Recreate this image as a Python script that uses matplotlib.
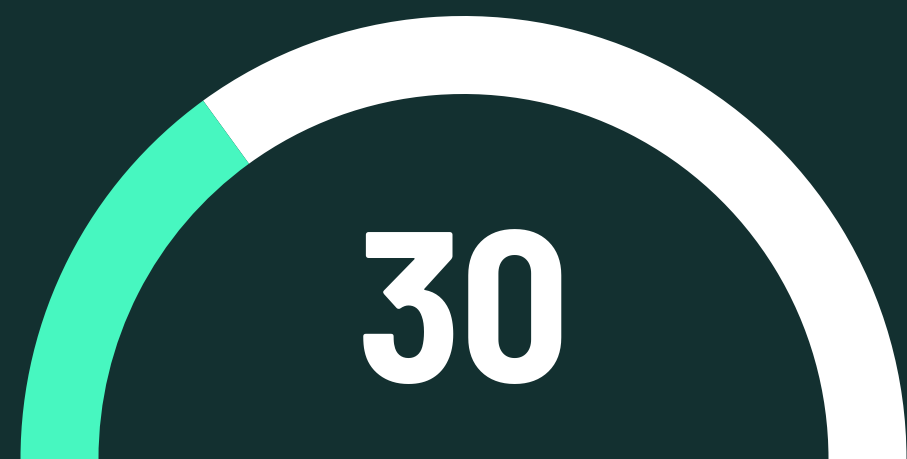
import matplotlib
matplotlib.use("Agg")
import matplotlib.pyplot as plt
from matplotlib.patches import Wedge

value = 30
min_value = 0
max_value = 100
label = "30"

bg = "#133030"
fill_color = "#47F7C0"
track_color = "#FFFFFF"

W, H = 907, 460
fig = plt.figure(figsize=(W/100, H/100), dpi=100, facecolor=bg)
ax = fig.add_axes([0, 0, 1, 1])
ax.set_facecolor(bg)
ax.set_xlim(0, W)
ax.set_ylim(0, H)
ax.set_aspect("equal")
ax.axis("off")

cx, cy = 463.5, 0
r_out, r_in = 443, 365
frac = (value - min_value) / (max_value - min_value)
split = 180 - 180 * frac

ax.add_patch(Wedge((cx, cy), r_out, 0, split, width=r_out - r_in, facecolor=track_color, edgecolor="none"))
ax.add_patch(Wedge((cx, cy), r_out, split, 180, width=r_out - r_in, facecolor=fill_color, edgecolor="none"))

ax.text(cx, H - 382, label, ha="center", va="baseline", color="white",
        fontsize=154, fontweight=700, family=["Barlow Semi Condensed", "DejaVu Sans"])

fig.savefig("out.png", dpi=100, facecolor=bg)
